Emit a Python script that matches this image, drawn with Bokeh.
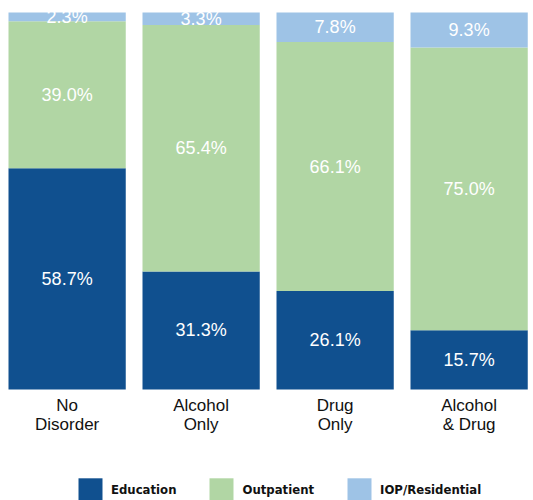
from bokeh.plotting import figure
from bokeh.models import ColumnDataSource, Range1d, Legend, LegendItem
from bokeh.core.properties import value
from bokeh.embed import file_html
from bokeh.resources import INLINE

# ---- data ----
categories = ["No\nDisorder", "Alcohol\nOnly", "Drug\nOnly", "Alcohol\n& Drug"]
education = [58.7, 31.3, 26.1, 15.7]
outpatient = [39.0, 65.4, 66.1, 75.0]
iop_residential = [2.3, 3.3, 7.8, 9.3]
series_names = ["Education", "Outpatient", "IOP/Residential"]
colors = ["#10508F", "#B1D6A4", "#9EC3E6"]

# ---- layout (pixels) ----
W, H = 533, 500
PX_PER_UNIT_Y = 3.77      # pixels per percentage point
PX_PER_CAT = 134          # pixels between bar centres
BASE_PX = 389             # pixel row of the 0 % baseline
LEFT_PX = 8               # left edge of first bar
BAR_W = 0.875

xs = list(range(len(categories)))
src = ColumnDataSource(dict(x=xs, Education=education, Outpatient=outpatient,
                            IOP=iop_residential))

x0 = -BAR_W / 2 - LEFT_PX / PX_PER_CAT
p = figure(width=W, height=H, output_backend="svg", toolbar_location=None,
           x_range=Range1d(x0, x0 + W / PX_PER_CAT),
           y_range=Range1d(-(H - BASE_PX) / PX_PER_UNIT_Y, BASE_PX / PX_PER_UNIT_Y),
           min_border=0)

renderers = p.vbar_stack(["Education", "Outpatient", "IOP"], x="x", width=BAR_W,
                         source=src, color=colors, line_color=None)

# value labels at segment centres
lx, ly, lt = [], [], []
for i in xs:
    base = 0.0
    for v in (education[i], outpatient[i], iop_residential[i]):
        lx.append(i)
        ly.append(base + v / 2)
        lt.append(f"{v:.1f}%")
        base += v
p.text(x=lx, y=ly, text=lt, text_color="white", text_align="center",
       text_baseline="middle", text_font_size="18px",
       text_font=value("Liberation Sans"))

# category labels under the bars
p.text(x=xs, y=[-6 / PX_PER_UNIT_Y] * len(xs), text=categories, text_color="#111111",
       text_align="center", text_baseline="top", text_font_size="17px",
       text_line_height=1.0, text_font=value("Liberation Sans"))

p.axis.visible = False
p.grid.visible = False
p.outline_line_color = None
p.background_fill_color = "white"

legend = Legend(items=[LegendItem(label=n, renderers=[r]) for n, r in zip(series_names, renderers)],
                orientation="horizontal", location=(75, -3),
                glyph_width=30, glyph_height=28, label_standoff=6, spacing=30,
                label_text_font="DejaVu Sans Condensed", label_text_font_style="bold",
                label_text_font_size="13px", label_text_color="#111111",
                border_line_color=None, background_fill_alpha=0, padding=0, margin=0)
p.add_layout(legend)

open("out.html", "w").write(file_html(p, INLINE))
